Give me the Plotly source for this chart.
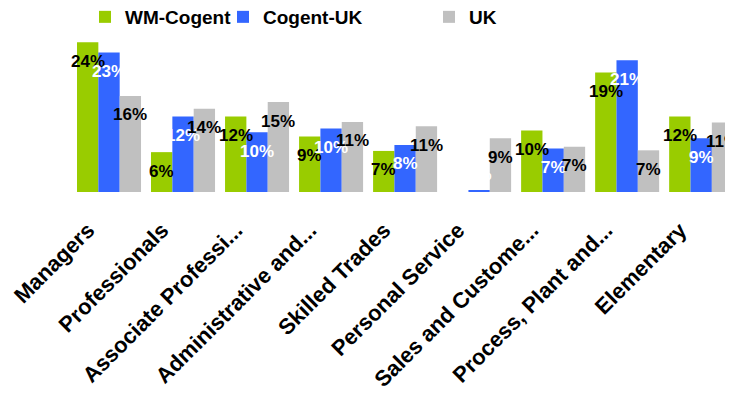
import plotly.graph_objects as go

categories = ["Managers", "Professionals", "Associate Professi...", "Administrative and...",
              "Skilled Trades", "Personal Service", "Sales and Custome...",
              "Process, Plant and...", "Elementary"]
wm_cogent = [24.8, 6.6, 12.5, 9.2, 6.8, None, 10.2, 19.8, 12.5]
cogent_uk = [23.1, 12.5, 9.9, 10.5, 7.8, 0.3, 7.2, 21.8, 8.9]
uk = [15.9, 13.8, 14.9, 11.6, 10.9, 8.9, 7.5, 6.9, 11.5]
wm_labels = ["24%", "6%", "12%", "9%", "7%", "", "10%", "19%", "12%"]
cogent_labels = ["23%", "12%", "10%", "10%", "8%", "0%", "7%", "21%", "9%"]
uk_labels = ["16%", "14%", "15%", "11%", "11%", "9%", "7%", "7%", "11%"]

series = [
    ("WM-Cogent", wm_cogent, wm_labels, "#99CC00", "black", "legend2", 97),
    ("Cogent-UK", cogent_uk, cogent_labels, "#3366FF", "white", "legend3", 235),
    ("UK", uk, uk_labels, "#C0C0C0", "black", "legend4", 441),
]

FONT = "Liberation Sans"
W, H = 733, 407
bargap = 0.135
w = (1 - bargap) / 3
xs = list(range(len(categories)))
LABEL_MIN = 6  # labels of very short bars sit no lower than this

legfont = dict(family=FONT, size=19, color="black", weight="bold")

fig = go.Figure()
annotations = []
legends = {}
for k, (name, vals, labels, color, tcolor, legid, legpx) in enumerate(series):
    fig.add_trace(go.Bar(x=xs, y=vals, name=name, marker_color=color,
                         marker_line_width=0, legend=legid))
    legends[legid] = dict(x=(legpx - 20) / W, y=1 - 9 / H, xref="container",
                          yref="container", xanchor="left", yanchor="middle",
                          font=legfont, bgcolor="rgba(0,0,0,0)", borderwidth=0)
    off = (k - 1) * w
    for i, (v, lab) in enumerate(zip(vals, labels)):
        if v is None or not lab:
            continue
        annotations.append(dict(x=i + off, y=max(v, LABEL_MIN), text=lab, showarrow=False,
                                yshift=-19, xref="x", yref="y",
                                font=dict(family=FONT, size=17, color=tcolor, weight="bold")))

fig.update_layout(
    width=W, height=H,
    margin=dict(l=64, r=8, t=33, b=223, autoexpand=False),
    paper_bgcolor="white", plot_bgcolor="white",
    barmode="group", bargap=bargap, bargroupgap=0,
    annotations=annotations,
    xaxis=dict(range=[-0.5, 8.43], tickmode="array", tickvals=xs, ticktext=categories,
               tickangle=-45, showgrid=False, showline=False, zeroline=False, ticks="",
               ticklabelshift=-21, ticklabelstandoff=20, ticklabeloverflow="allow",
               tickfont=dict(family=FONT, size=22, color="black", weight="bold")),
    yaxis=dict(range=[0, 25], showgrid=False, showline=False, zeroline=False,
               showticklabels=False, ticks=""),
    **legends,
)

fig.write_html("out.html")
